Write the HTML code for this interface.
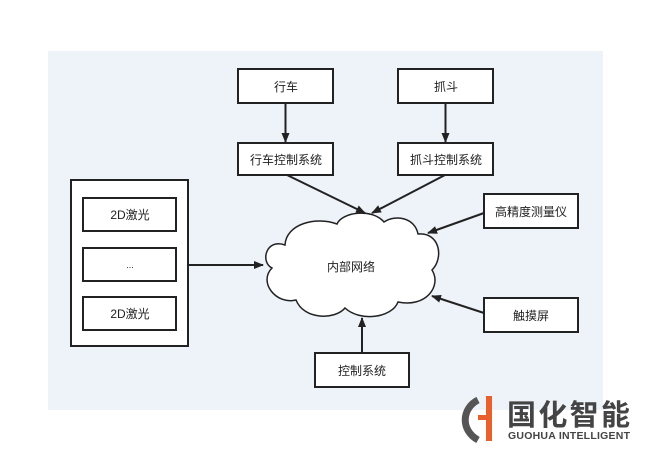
<!DOCTYPE html>
<html><head><meta charset="utf-8"><style>
body{margin:0;width:650px;height:460px;background:#fff;overflow:hidden;font-family:"Liberation Sans","Noto Sans CJK SC",sans-serif}
</style></head><body>
<svg width="650" height="460" xmlns="http://www.w3.org/2000/svg" font-family="Liberation Sans, Noto Sans CJK SC, sans-serif">
<defs><marker id="a" markerWidth="10" markerHeight="8" refX="9" refY="4" orient="auto" markerUnits="userSpaceOnUse"><path d="M0,0 L10,4 L0,8 Z" fill="#222"/></marker></defs>
<rect x="48" y="51" width="555" height="359" fill="#eef2f9"/>
<g fill="#fff" stroke="#222" stroke-width="2">
<rect x="238" y="69" width="95" height="34"/>
<rect x="398" y="69" width="95" height="34"/>
<rect x="238" y="143" width="95" height="32"/>
<rect x="398" y="143" width="95" height="32"/>
<rect x="71" y="180" width="117" height="166"/>
<rect x="83" y="198" width="93" height="33"/>
<rect x="83" y="248" width="93" height="33"/>
<rect x="83" y="297" width="93" height="33"/>
<rect x="484" y="194" width="94" height="34"/>
<rect x="484" y="298" width="94" height="34"/>
<rect x="315" y="353" width="94" height="34"/>
<path d="M285,245 C266,238 260,262 272,268 C258,282 276,305 296,300 C304,320 335,320 345,308 C360,322 392,318 398,302 C426,308 442,286 432,270 C444,258 440,232 418,234 C415,218 396,214 384,222 C372,208 342,212 337,224 C316,216 286,224 285,245 Z" stroke-width="1.5"/>
</g>
<g stroke="#222" stroke-width="2" fill="none" marker-end="url(#a)">
<line x1="285.5" y1="103" x2="285.5" y2="142"/>
<line x1="445.5" y1="103" x2="445.5" y2="142"/>
<line x1="287" y1="175" x2="365" y2="213"/>
<line x1="445" y1="175" x2="372" y2="213"/>
<line x1="484" y1="213" x2="428" y2="233"/>
<line x1="484" y1="313" x2="432" y2="296"/>
<line x1="362" y1="353" x2="362" y2="318"/>
<line x1="188" y1="265" x2="263" y2="265"/>
</g>
<g font-size="12" fill="#222" text-anchor="middle">
<text x="286" y="91">行车</text>
<text x="446" y="91">抓斗</text>
<text x="286" y="164">行车控制系统</text>
<text x="446" y="164">抓斗控制系统</text>
<text x="130" y="219">2D激光</text>
<text x="130" y="268" font-size="9">...</text>
<text x="130" y="318">2D激光</text>
<text x="351" y="285" dy="-14">内部网络</text>
<text x="531" y="216">高精度测量仪</text>
<text x="531" y="320">触摸屏</text>
<text x="362" y="375">控制系统</text>
</g>
<path d="M478,400 C462,408 460,430 478,440" stroke="#555" stroke-width="7" fill="none"/>
<rect x="486" y="396" width="6" height="45" fill="#e8602c"/>
<rect x="478" y="415" width="12" height="5" fill="#e8602c"/>
<text x="507" y="425" font-size="29" font-weight="bold" fill="#444" textLength="123">国化智能</text>
<text x="508" y="439" font-size="10.5" font-weight="bold" fill="#444" textLength="122">GUOHUA INTELLIGENT</text>
</svg>
</body></html>
